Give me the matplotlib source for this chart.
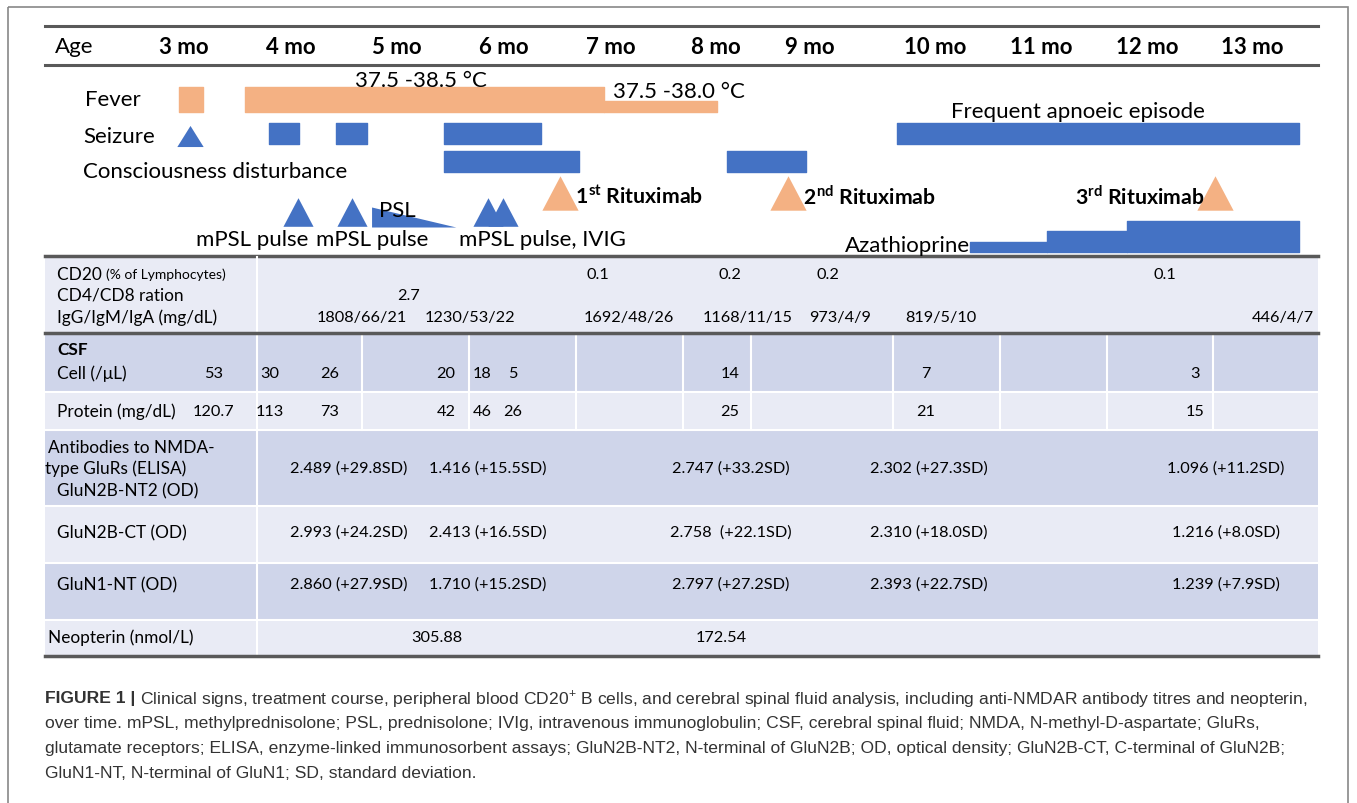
import matplotlib.pyplot as plt
import numpy as np

plt.rcParams['font.family'] = ['Lato', 'DejaVu Sans']
plt.rcParams['mathtext.fontset'] = 'custom'
plt.rcParams['mathtext.rm'] = 'Lato'
plt.rcParams['mathtext.bf'] = 'Lato:bold'

# ---- data ----
months = [3, 4, 5, 6, 7, 8, 9, 10, 11, 12, 13]
month_labels = [f"{m} mo" for m in months]

fever_high = [(2.95, 3.18), (3.57, 6.93)]
fever_low = [(6.93, 8.01)]
seizure_tri = [3.06]
seizure_spans = [(3.79, 4.08), (4.42, 4.72), (5.44, 6.35)]
apnoea_span = [(9.70, 13.45)]
conscious_spans = [(5.44, 6.70), (8.12, 8.96)]
mpsl_pulses = [4.07, 4.58, 5.85, 5.99]
psl_taper = (4.76, 5.55)
rituximab = [6.52, 8.77, 12.65]
rituximab_labels = [r"1$^{\mathbf{st}}$ Rituximab", r"2$^{\mathbf{nd}}$ Rituximab", r"3$^{\mathbf{rd}}$ Rituximab"]
aza_start = [10.33, 11.06, 11.81]
aza_end = [11.06, 11.81, 13.45]
aza_level = [1, 2, 3]

cd20 = ["0.1", "0.2", "0.2", "0.1"]
cd48 = ["2.7"]
igs = ["1808/66/21", "1230/53/22", "1692/48/26", "1168/11/15", "973/4/9", "819/5/10", "446/4/7"]
csf_cell = ["53", "30", "26", "20", "18", "5", "14", "7", "3"]
csf_protein = ["120.7", "113", "73", "42", "46", "26", "25", "21", "15"]
nt2 = ["2.489 (+29.8SD)", "1.416 (+15.5SD)", "2.747 (+33.2SD)", "2.302 (+27.3SD)", "1.096 (+11.2SD)"]
ct = ["2.993 (+24.2SD)", "2.413 (+16.5SD)", "2.758  (+22.1SD)", "2.310 (+18.0SD)", "1.216 (+8.0SD)"]
n1 = ["2.860 (+27.9SD)", "1.710 (+15.2SD)", "2.797 (+27.2SD)", "2.393 (+22.7SD)", "1.239 (+7.9SD)"]
neopterin = ["305.88", "172.54"]

# ---- layout (pixels) ----
W, H = 1357, 804
month_x = [184, 291, 397, 504, 611, 716, 810, 935, 1041, 1147, 1252]
BLUE = '#4472C4'
ORANGE = '#F4B183'
DARK = '#CFD5EA'
LIGHT = '#E9EBF5'
RULE = '#595959'
TFS = 16  # timeline font size

fig = plt.figure(figsize=(W / 100, H / 100), dpi=100)
page = fig.add_axes([0, 0, 1, 1])
page.set_xlim(0, W)
page.set_ylim(H, 0)
page.axis('off')

# timeline axes: x in months through a piecewise scale
ext_m = [0] + months + [16]
ext_x = [month_x[0] - 3 * 107] + month_x + [month_x[-1] + 3 * 105]
fwd = lambda m: np.interp(m, ext_m, ext_x)
inv = lambda x: np.interp(x, ext_x, ext_m)
tl = fig.add_axes([0, 0, 1, 1])
tl.set_xscale('function', functions=(fwd, inv))
tl.set_xlim(inv(0), inv(W))
tl.set_ylim(H, 0)
tl.axis('off')

# outer frame
page.add_patch(plt.Rectangle((8, 8), W - 17, H + 20, fill=False, ec='#888888', lw=1.2))

# header
page.plot([45, 1318], [27, 27], color=RULE, lw=2.2)
page.plot([45, 1318], [66, 66], color=RULE, lw=2.2)
page.plot([45, 1318], [257, 257], color=RULE, lw=2.5)
page.text(55, 47, "Age", fontsize=TFS, va='center')
for m, lab in zip(months, month_labels):
    tl.text(m, 47, lab, fontsize=TFS, fontweight='bold', ha='center', va='center')

# row labels
page.text(85, 100, "Fever", fontsize=TFS, va='center')
page.text(83, 137, "Seizure", fontsize=TFS, va='center')
page.text(83, 172, "Consciousness disturbance", fontsize=TFS, va='center')

# fever
tl.broken_barh([(a, b - a) for a, b in fever_high], (88, 25), color=ORANGE)
tl.broken_barh([(a, b - a) for a, b in fever_low], (102, 11), color=ORANGE)
tl.text(4.60, 81, "37.5 -38.5 °C", fontsize=TFS, va='center')
tl.text(7.02, 92, "37.5 -38.0 °C", fontsize=TFS, va='center')

# seizure / apnoea
tri_flat = [(-1, -0.8), (1, -0.8), (0, 0.8)]
tri = [(-1, -0.95), (1, -0.95), (0, 0.95)]
tl.scatter(seizure_tri, [137] * len(seizure_tri), marker=tri_flat, s=360, color=BLUE, lw=0)
tl.broken_barh([(a, b - a) for a, b in seizure_spans], (124, 21), color=BLUE)
tl.broken_barh([(a, b - a) for a, b in apnoea_span], (124, 21), color=BLUE)
tl.text(11.35, 112, "Frequent apnoeic episode", fontsize=TFS, ha='center', va='center')

# consciousness
tl.broken_barh([(a, b - a) for a, b in conscious_spans], (152, 21), color=BLUE)

# rituximab
tl.scatter(rituximab, [194] * 3, marker=tri, s=680, color=ORANGE, lw=0)
for i, (m, lab) in enumerate(zip(rituximab, rituximab_labels)):
    if i < 2:
        tl.text(m, 197, "   " + lab, fontsize=15.3, fontweight='bold', ha='left', va='center')
    else:
        tl.text(m, 197, lab + "   ", fontsize=15.3, fontweight='bold', ha='right', va='center')

# steroid pulses and PSL taper
tl.scatter(mpsl_pulses, [213] * len(mpsl_pulses), marker=tri, s=470, color=BLUE, lw=0)
tl.fill_between(psl_taper, [208, 228], [228, 228], color=BLUE, lw=0)
tl.text(5.0, 211, "PSL", fontsize=TFS, ha='center', va='center')
tl.text(3.64, 240, "mPSL pulse", fontsize=TFS, ha='center', va='center')
tl.text(4.77, 240, "mPSL pulse", fontsize=TFS, ha='center', va='center')
tl.text(6.36, 240, "mPSL pulse, IVIG", fontsize=TFS, ha='center', va='center')

# azathioprine
for a, b, lv in zip(aza_start, aza_end, aza_level):
    tl.broken_barh([(a, b - a)], (253 - 10.5 * lv, 10.5 * lv), color=BLUE)
tl.text(aza_start[0], 246, "Azathioprine", fontsize=TFS, ha='right', va='center')

# ---- table ----
L, R, SEP = 45, 1318, 257
rows = [(258, 334, LIGHT), (334, 393, DARK), (393, 431, LIGHT), (431, 507, DARK),
        (507, 564, LIGHT), (564, 621, DARK), (621, 657, LIGHT)]
for y0, y1, c in rows:
    page.add_patch(plt.Rectangle((L, y0), R - L, y1 - y0, color=c, lw=0))
    page.plot([L, R], [y1, y1], color='white', lw=1.5)
page.plot([SEP, SEP], [258, 657], color='white', lw=1.5)
for x in [362, 469, 576, 683, 751, 893, 1000, 1107, 1213]:
    page.plot([x, x], [334, 431], color='white', lw=1.5)
page.plot([L, R], [334, 334], color=RULE, lw=2.5)
page.plot([L, R], [657, 657], color=RULE, lw=2.5)

fs = 11.7   # values
lfs = 12.4  # row labels
t = page.text(57, 275, "CD20 ", fontsize=lfs, va='center')
page.annotate("(% of Lymphocytes)", xy=(1, 0.5), xycoords=t, fontsize=10, va='center')
page.text(57, 296, "CD4/CD8 ration", fontsize=lfs, va='center')
page.text(57, 318, "IgG/IgM/IgA (mg/dL)", fontsize=lfs, va='center')
for x, v in zip([598, 730, 828, 1165], cd20):
    page.text(x, 275, v, fontsize=fs, ha='center', va='center')
page.text(409, 296, cd48[0], fontsize=fs, ha='center', va='center')
for x, v in zip([362, 470, 629, 748, 840, 941, 1283], igs):
    page.text(x, 318, v, fontsize=fs, ha='center', va='center')

page.text(57, 350, "CSF", fontsize=lfs, fontweight='bold', va='center')
page.text(57, 374, "Cell (/μL)", fontsize=lfs, va='center')
page.text(57, 412, "Protein (mg/dL)", fontsize=lfs, va='center')
csf_x = [214, 270, 330, 446, 482, 513, 730, 926, 1195]
for x, v in zip(csf_x, csf_cell):
    page.text(x, 374, v, fontsize=fs, ha='center', va='center')
for x, v in zip(csf_x, csf_protein):
    page.text(x, 412, v, fontsize=fs, ha='center', va='center')

page.text(48, 448, "Antibodies to NMDA-", fontsize=lfs, va='center')
page.text(45, 469, "type GluRs (ELISA)", fontsize=lfs, va='center')
page.text(57, 491, "GluN2B-NT2 (OD)", fontsize=lfs, va='center')
page.text(57, 533, "GluN2B-CT (OD)", fontsize=lfs, va='center')
page.text(57, 585, "GluN1-NT (OD)", fontsize=lfs, va='center')
page.text(48, 638, "Neopterin (nmol/L)", fontsize=lfs, va='center')
ab_x = [349, 488, 731, 929, 1226]
for row_y, vals in [(469, nt2), (533, ct), (585, n1)]:
    for x, v in zip(ab_x, vals):
        page.text(x, row_y, v, fontsize=fs, ha='center', va='center')
for x, v in zip([437, 721], neopterin):
    page.text(x, 638, v, fontsize=fs, ha='center', va='center')

# ---- caption ----
cap = dict(fontsize=12.6, color='#333333', family=['Liberation Sans', 'DejaVu Sans'], va='center')
b = page.text(45, 699, "FIGURE 1 | ", fontweight='bold', **cap)
page.annotate("Clinical signs, treatment course, peripheral blood CD20$^{+}$ B cells, and cerebral spinal fluid "
              "analysis, including anti-NMDAR antibody titres and neopterin,",
              xy=(1, 0.5), xycoords=b, **cap)
page.text(45, 724, "over time. mPSL, methylprednisolone; PSL, prednisolone; IVIg, intravenous immunoglobulin; "
          "CSF, cerebral spinal fluid; NMDA, N-methyl-D-aspartate; GluRs,", **cap)
page.text(45, 749, "glutamate receptors; ELISA, enzyme-linked immunosorbent assays; GluN2B-NT2, N-terminal of "
          "GluN2B; OD, optical density; GluN2B-CT, C-terminal of GluN2B;", **cap)
page.text(45, 774, "GluN1-NT, N-terminal of GluN1; SD, standard deviation.", **cap)

fig.savefig("out.png", dpi=100, facecolor='white')
